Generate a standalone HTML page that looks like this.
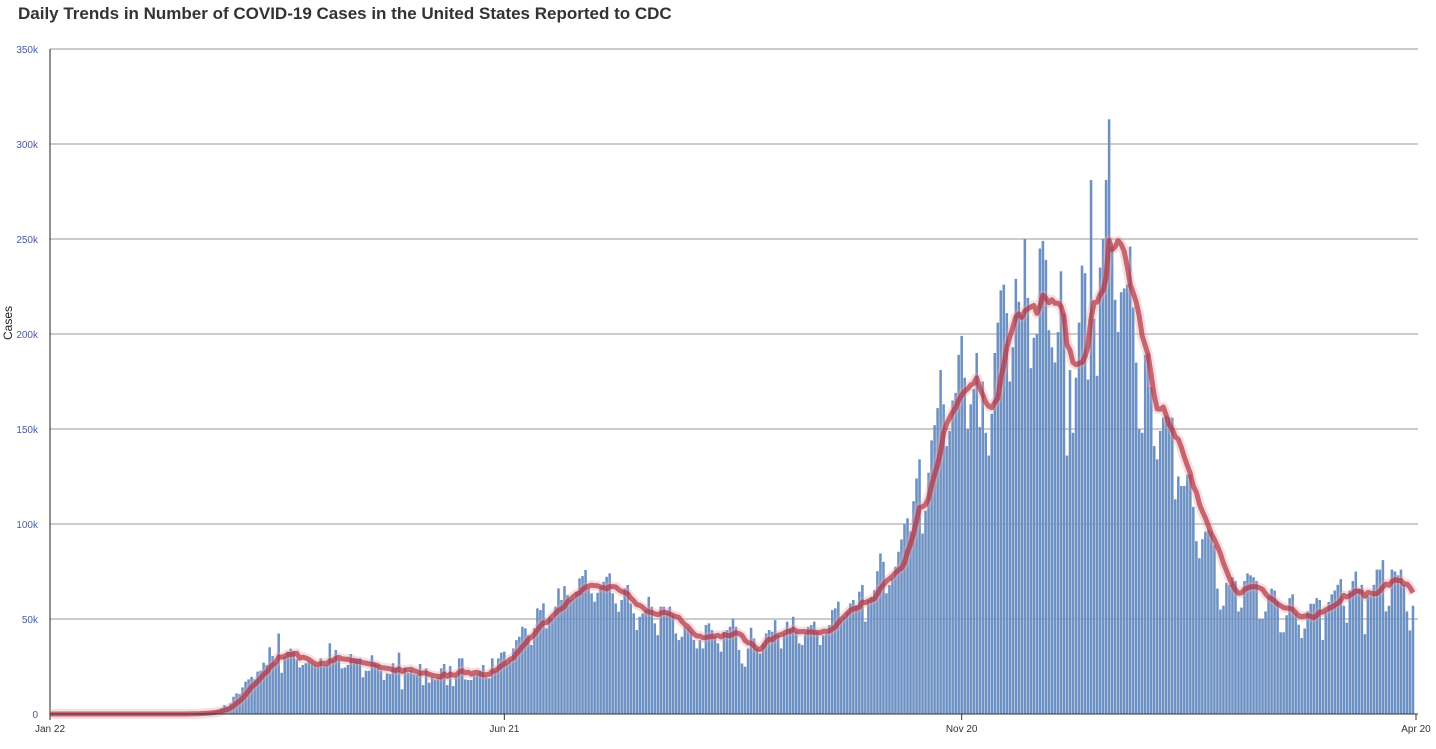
<!DOCTYPE html>
<html><head><meta charset="utf-8"><style>
body{margin:0;background:#fff;width:1436px;height:749px;overflow:hidden;font-family:"Liberation Sans",sans-serif}
#title{position:absolute;left:18px;top:4px;font-size:17px;font-weight:bold;color:#333}
</style></head><body>
<div id="title">Daily Trends in Number of COVID-19 Cases in the United States Reported to CDC</div>
<svg id="chart" width="1436" height="749" style="position:absolute;left:0;top:0"></svg>
<script>
const tickValues=[0,50,100,150,200,250,300,350];
const tickLabels=["0","50k","100k","150k","200k","250k","300k","350k"];
const xTickDays=[0,151,303,454];
const xTickLabels=["Jan 22","Jun 21","Nov 20","Apr 20"];
const zeroDays=[0,0,0,0,0,0,0,0,0,0,0,0,0,0,0,0,0,0,0,0,0,0,0,0,0,0,0,0,0,0,0,0,0,0,0,0,0,0,0,0,0,0,0,0,0,0.1,0.1,0.2,0.3,0.4,0.5,0.6,0.8,1,1.2,1.5];
const springCases=[2.1,3,4.7,3.9,5.6,9.1,10.9,10.5,14,17,18.2,19.6,18.2,22.3,22.8,27,25.8,35.1,30.5,26.7,42.4,21.7,30.2,32.8,34.4,33.3,28.8,24.5,25.8,26.7,27.5,26.7,25.8,24.9,29.3,25.8,25.8,37.2,28.4,33.7,28.4,24,24.5,25.8,31.6,29.3,29.3,29.3,19.3,22.8,22.8,30.9,26.7,25.8,22.8,17.9,21.4,21,26.7,24.5,32.3,13,24,21.7,22.8,21,20.5,26.3,15.2,24,16.5,19.3,18.2,19.3,24,26.3,15.2,25.2,14.7,19.6,29.3,29.3,18.2,17.9,17.9,20.5,21,22.8,25.8,19.3,18.8,29.3,22.8,29.3,32.3];
const summerCases=[32.8,26.6,28.4,34.5,38.9,40.7,45.9,45.1,41.5,36.3,45.1,55.6,54.7,58.2,45.1,51.2,50.3,56.5,66.1,60,67.3,62.6,60,60.8,64.4,71.4,72.6,75.8,66.1,63.5,59.1,63.8,67,69.6,72.2,74,63.5,58.2,53.8,60,66.1,67.9,58.2,53,44.2,51.2,53,54.7,61.7,56.5,47.7,41.5,56.5,56.5,53.3,56.5,52.1,42.4,38.9,40.7,45.9,45.1,43.3,38.9,34.5,38.9,34.5,46.8,47.7,44.2,40.7,37.2,32.8,43.3,44.2,45.9,50.3,45.9,33.7,26.6,24.9,34.5,45.4,39.8,34.5,31.9,37.2,42.4,44.2,43.3,49.4,41.5,34.5,42.4,48.6,45.1,51.2,43.3,37.2,36.3,42.4,45.9,46.8,48.6,43.3,36.3,41.5,42.4,46.8,54.7,55.6,59.1,49.4,51.2,53.8,58.2,60,57.3,64.4,67.9,48.6,60,61.7,65.2,75.2,84.5,80.1,63.5,67.9,71.4,77.5,85.4,91.9,100,103,96];
const winterCases=[112,124,134,95,107,127,144,152,161,181,163,141,149,165,169,189,199,177,150,163,171,190,151,175,148,136,158,190,206,223,226,211,175,193,229,217,210,250,219,182,198,200,245,249,239,202,193,185,201,233,211,136,181,148,177,206,236,232,176,281,208,178,235,250,281,313,246,218,201,222,224,226,246,214,185,150,148,189,190];
const springCases2021=[172,141,134,149,156,157,156,156,113,125,120,120,126,126,109,91,82,92,96,97,96,89,66,55,57,69,68,72,70,54,56,70,74,73,72,70,50,50,54,62,66,65,59,43,43,52,61,63,53,47,40,45,54,58,58,61,60,39,54,59,63,65,68,71,57,48,65,70,75,66,68,42,62,62,68,76,76,81,54,57,76,75,73,76,68,54,44,57];
const cases=zeroDays.concat(springCases,summerCases,winterCases,springCases2021);

const NS="http://www.w3.org/2000/svg";
const svg=document.getElementById('chart');
const X0=50,X1=1416,Y0=714,Y1=49,YMAX=350,DAYS=454;
const xs=d=>X0+d*(X1-X0)/DAYS;
const ys=v=>Y0-v*(Y0-Y1)/YMAX;
function mk(t,a){const e=document.createElementNS(NS,t);for(const k in a)e.setAttribute(k,a[k]);svg.appendChild(e);return e;}

tickValues.forEach((v,i)=>{
  const g=mk('line',{x1:X0,x2:1418,y1:ys(v),y2:ys(v),stroke:v===0?'#333':'#999','stroke-width':1});
  
  
  const t=mk('text',{x:38,y:ys(v)+4,'text-anchor':'end','font-size':10,fill:'#4a5aa0','font-family':'Liberation Sans, sans-serif'});
  t.textContent=tickLabels[i];
  
  
});
const ya=mk('line',{x1:X0,x2:X0,y1:Y1,y2:Y0,stroke:'#222','stroke-width':1});


const yt=mk('text',{x:12,y:323,'text-anchor':'middle','font-size':12,fill:'#222',transform:'rotate(-90 12 323)','font-family':'Liberation Sans, sans-serif'});
yt.textContent='Cases';



const bw=(X1-X0)/DAYS*0.85;
cases.forEach((v,i)=>{
  const r=mk('rect',{x:xs(i)-bw/2,y:ys(v),width:bw,height:Math.max(0,Y0-ys(v)),fill:'#6d91c3'});
  
  
});

const avg=cases.map((v,i)=>{let s=0,n=0;for(let k=Math.max(0,i-6);k<=i;k++){s+=cases[k];n++;}return s/n;});
const pts=avg.map((v,i)=>xs(i).toFixed(1)+','+ys(v).toFixed(1)).join(' ');
const halo=mk('polyline',{points:pts,fill:'none',stroke:'#e8a0a8','stroke-width':10,'stroke-opacity':0.35,'stroke-linejoin':'round'});


const ma=mk('polyline',{points:pts,fill:'none',stroke:'#b03040','stroke-width':5,'stroke-opacity':0.7,'stroke-linejoin':'round'});



const xa=mk('line',{x1:X0,x2:X1+2,y1:Y0,y2:Y0,stroke:'#333','stroke-width':1});


xTickDays.forEach((d,i)=>{
  const tk=mk('line',{x1:xs(d),x2:xs(d),y1:Y0,y2:Y0+6,stroke:'#333','stroke-width':1});
  
  
  const t=mk('text',{x:xs(d),y:732,'text-anchor':'middle','font-size':10,fill:'#333','font-family':'Liberation Sans, sans-serif'});
  t.textContent=xTickLabels[i];
  
  
});
</script>
</body></html>
